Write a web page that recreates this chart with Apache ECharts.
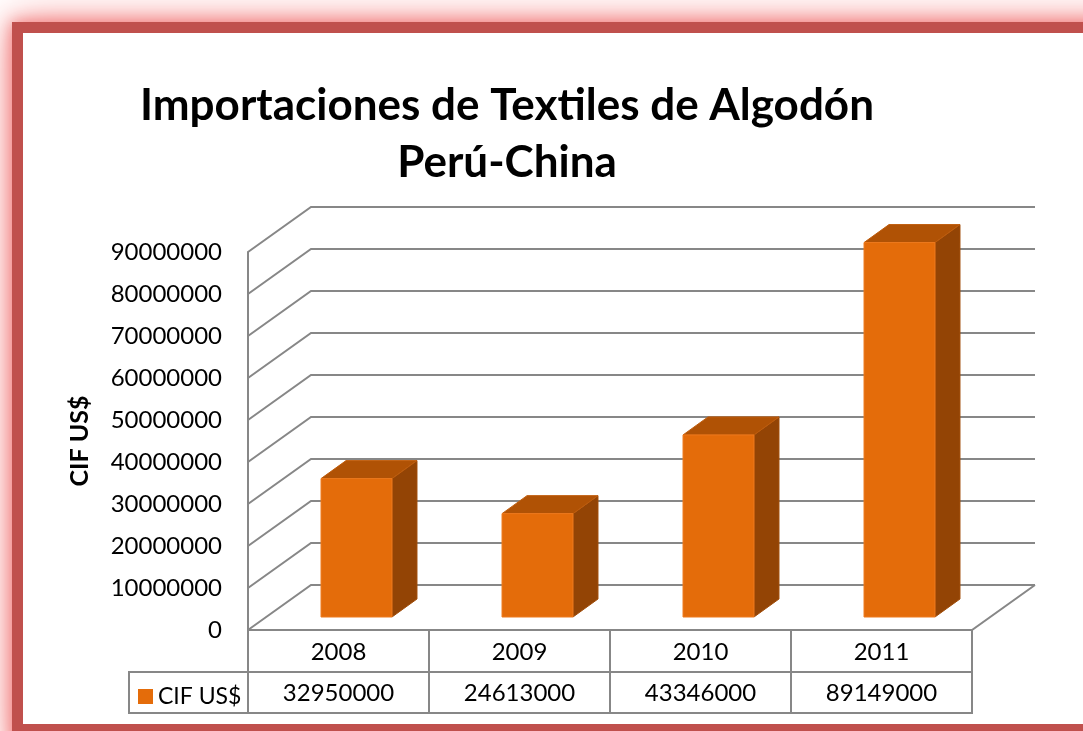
<!DOCTYPE html>
<html>
<head>
<meta charset="utf-8">
<script src="https://cdn.jsdelivr.net/npm/echarts@6/dist/echarts.min.js"></script>
<style>
  html, body { margin: 0; padding: 0; background: #ffffff; }
  #chart { width: 1083px; height: 731px; }
</style>
</head>
<body>
<div id="chart"></div>
<script>
// ---- data ----
const categories = ['2008', '2009', '2010', '2011'];
const values = [32950000, 24613000, 43346000, 89149000];
const yTicks = [0, 10000000, 20000000, 30000000, 40000000, 50000000, 60000000, 70000000, 80000000, 90000000];
const seriesName = 'CIF US$';
const axisName = 'CIF US$';
const titleLines = ['Importaciones de Textiles de Algodón', 'Perú-China'];

// ---- styles ----
const FONT = 'Lato';
const GRID_COLOR = '#878787';
const DX = 63, DY = 45;          // depth of 3D floor / walls
const FX = 18, FY = 13;          // bar front face offset into depth
const BX = 25, BY = 18;          // bar depth
const FRONT = '#E46C0A', TOP = '#B05205', SIDE = '#934405';
const ROW1 = 42, ROW2 = 41, LEGW = 119;

const chart = echarts.init(document.getElementById('chart'), null, { renderer: 'canvas' });

const option = {
  backgroundColor: '#ffffff',
  animation: false,
  title: {
    text: titleLines.join('\n'),
    left: 507,
    top: 77,
    padding: 0,
    textAlign: 'center',
    textStyle: { fontFamily: FONT, fontWeight: 'bold', fontSize: 44, lineHeight: 57, color: '#000' }
  },
  legend: {
    data: [{ name: seriesName, icon: 'rect' }],
    left: 138,
    top: 685,
    padding: 0,
    itemWidth: 15,
    itemHeight: 15,
    textStyle: { fontFamily: FONT, fontSize: 23, color: '#000', lineHeight: 15 }
  },
  grid: { left: 248, top: 252, width: 724, height: 378, containLabel: false },
  xAxis: {
    type: 'category',
    data: categories,
    axisLine: { show: false },
    axisTick: { show: false },
    axisLabel: { show: false },
    splitLine: { show: false }
  },
  yAxis: {
    type: 'value',
    min: 0,
    max: 90000000,
    interval: 10000000,
    name: axisName,
    nameLocation: 'middle',
    nameRotate: 90,
    nameGap: 156,
    nameTextStyle: { fontFamily: FONT, fontWeight: 'bold', fontSize: 25, color: '#000' },
    axisLine: { show: true, lineStyle: { color: GRID_COLOR, width: 2 } },
    axisTick: { show: false },
    splitLine: { show: false },
    axisLabel: { margin: 26, fontFamily: FONT, fontSize: 24, color: '#000',
      formatter: function (v) { return String(v); } }
  },
  graphic: [
    { type: 'rect', z: -21, shape: { x: 12, y: 22, width: 1120, height: 730 },
      style: { fill: '#E88A8A', shadowBlur: 40, shadowColor: 'rgba(245,140,140,1)' }, silent: true },
    { type: 'rect', z: -20, shape: { x: 12, y: 22, width: 1120, height: 730 },
      style: { fill: '#C0504D', shadowBlur: 16, shadowColor: 'rgba(240,120,120,1)' }, silent: true },
    { type: 'rect', z: -19, shape: { x: 23, y: 33, width: 1100, height: 691 },
      style: { fill: '#ffffff' }, silent: true }
  ],
  series: [
    {
      name: 'walls',
      type: 'custom',
      clip: false,
      z: 1,
      silent: true,
      data: yTicks.map(v => [0, v]),
      renderItem: function (params, api) {
        const cs = params.coordSys;
        const x0 = cs.x, x1 = cs.x + cs.width;
        const y = api.coord([0, api.value(1)])[1];
        const children = [{
          type: 'polyline',
          shape: { points: [[x0, y], [x0 + DX, y - DY], [x1 + DX, y - DY]] },
          style: { stroke: GRID_COLOR, lineWidth: 2, fill: null }
        }];
        if (api.value(1) === 0) {
          children.push({
            type: 'polyline',
            shape: { points: [[x0, y], [x1, y], [x1 + DX, y - DY]] },
            style: { stroke: GRID_COLOR, lineWidth: 2, fill: null }
          });
        }
        return { type: 'group', children: children };
      }
    },
    {
      name: seriesName,
      type: 'custom',
      clip: false,
      z: 3,
      itemStyle: { color: FRONT },
      data: values.map((v, i) => [i, v]),
      renderItem: function (params, api) {
        const i = api.value(0), v = api.value(1);
        const base = api.coord([i, 0]);
        const topPt = api.coord([i, v]);
        const bw = api.size([1, 0])[0] * 0.392;
        const L = base[0] + FX - bw / 2, R = L + bw;
        const B = base[1] - FY, T = topPt[1] - FY;
        return {
          type: 'group',
          children: [
            { type: 'polygon', shape: { points: [[R, T], [R + BX, T - BY], [R + BX, B - BY], [R, B]] },
              style: { fill: SIDE, stroke: '#A04C08', lineWidth: 1 } },
            { type: 'polygon', shape: { points: [[L, T], [L + BX, T - BY], [R + BX, T - BY], [R, T]] },
              style: { fill: TOP, stroke: '#BF5C0C', lineWidth: 1 } },
            { type: 'rect', shape: { x: L, y: T, width: bw, height: B - T },
              style: { fill: FRONT, stroke: '#EE7A1E', lineWidth: 1 } }
          ]
        };
      }
    },
    {
      name: 'table',
      type: 'custom',
      clip: false,
      z: 4,
      silent: true,
      data: values.map((v, i) => [i, v]),
      renderItem: function (params, api) {
        const cs = params.coordSys;
        const i = api.value(0);
        const colW = api.size([1, 0])[0];
        const cx = api.coord([i, 0])[0];
        const y0 = api.coord([i, 0])[1];
        const left = cx - colW / 2;
        const lineStyle = { stroke: GRID_COLOR, lineWidth: 2, fill: null };
        const children = [
          { type: 'rect', shape: { x: left, y: y0, width: colW, height: ROW1 }, style: lineStyle },
          { type: 'rect', shape: { x: left, y: y0 + ROW1, width: colW, height: ROW2 }, style: lineStyle },
          { type: 'text', style: { text: categories[params.dataIndex], x: cx, y: y0 + ROW1 / 2 + 1,
              align: 'center', verticalAlign: 'middle', fontFamily: FONT, fontSize: 24, fill: '#000' } },
          { type: 'text', style: { text: String(api.value(1)), x: cx, y: y0 + ROW1 + ROW2 / 2 + 1,
              align: 'center', verticalAlign: 'middle', fontFamily: FONT, fontSize: 24, fill: '#000' } }
        ];
        if (params.dataIndex === 0) {
          children.push({ type: 'rect', shape: { x: cs.x - LEGW, y: y0 + ROW1, width: LEGW, height: ROW2 }, style: lineStyle });
        }
        return { type: 'group', children: children };
      }
    }
  ]
};

chart.setOption(option);
</script>
</body>
</html>
